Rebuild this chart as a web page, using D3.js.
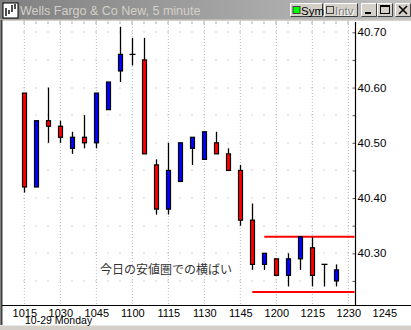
<!DOCTYPE html>
<html><head><meta charset="utf-8">
<script src="https://cdn.jsdelivr.net/npm/d3@7"></script>
<style>body{margin:0;background:#fff}svg{display:block}</style>
</head><body>
<script>
// ---- data ----
const times = ["10:15","10:20","10:25","10:30","10:35","10:40","10:45","10:50","10:55","11:00",
  "11:05","11:10","11:15","11:20","11:25","11:30","11:35","11:40","11:45","11:50","11:55",
  "12:00","12:05","12:10","12:15","12:20","12:25"];
const opens  = [40.59,40.42,40.54,40.53,40.49,40.51,40.50,40.56,40.63,40.66,40.65,40.46,40.38,40.43,40.49,40.47,40.50,40.48,40.45,40.36,40.28,40.29,40.26,40.29,40.31,40.28,40.25];
const highs  = [40.59,40.54,40.60,40.54,40.52,40.55,40.59,40.61,40.71,40.69,40.69,40.47,40.50,40.50,40.51,40.52,40.52,40.49,40.46,40.39,40.30,40.29,40.30,40.33,40.33,40.28,40.28];
const lows   = [40.41,40.42,40.50,40.50,40.48,40.49,40.49,40.56,40.61,40.64,40.48,40.37,40.37,40.43,40.46,40.47,40.48,40.45,40.35,40.27,40.27,40.26,40.24,40.27,40.24,40.24,40.24];
const closes = [40.42,40.54,40.53,40.51,40.51,40.50,40.59,40.61,40.66,40.66,40.48,40.38,40.45,40.50,40.51,40.52,40.48,40.45,40.36,40.28,40.30,40.26,40.29,40.33,40.26,40.28,40.27];
const xTickLabels = ["1015","1030","1045","1100","1115","1130","1145","1200","1215","1230","1245"];
const yTickLabels = ["40.30","40.40","40.50","40.60","40.70"];
const rangeLevels = [40.33, 40.23];
const rangeStarts = ["11:55","11:50"];
const title = "Wells Fargo & Co New, 5 minute";
const dateLabel = "10-29 Monday";
const note = "今日の安値圏での横ばい";

const toMin = s => { const [h,m] = s.split(":").map(Number); return h*60+m; };
const lblMin = s => toMin(s.slice(0, s.length-2) + ":" + s.slice(-2));

const W = 411, H = 330;
const svg = d3.select("body").append("svg").attr("width", W).attr("height", H);

const x = d3.scaleLinear().domain([toMin("10:15"), toMin("12:45")]).range([24.3, 384.3]);
const y = d3.scaleLinear().domain([40.30, 40.70]).range([253.3, 32.3]);
const axisX = 355.5, plotTop = 21, plotBottom = 305.5;
const font = "Liberation Sans, Arial, sans-serif";

svg.append("rect").attr("width", W).attr("height", H).attr("fill", "#fff");

// ---- title bar ----
const defs = svg.append("defs");
const grad = defs.append("linearGradient").attr("id","tb").attr("x1","0").attr("x2","1");
grad.append("stop").attr("offset","0").attr("stop-color","#808080");
grad.append("stop").attr("offset","1").attr("stop-color","#c0c0c0");
svg.append("rect").attr("x",0).attr("y",0).attr("width",W).attr("height",20).attr("fill","url(#tb)");
svg.append("rect").attr("x",0).attr("y",19.5).attr("width",W).attr("height",1.5).attr("fill","#d4d0c8");
// icon
svg.append("rect").attr("x",3).attr("y",3).attr("width",15).attr("height",15).attr("fill","#fff").attr("stroke","#000");
const ic = svg.append("g").attr("stroke","#000").attr("stroke-width",1.4);
[[6,8,16],[9,10,14],[12,5,12],[15,4,9]].forEach(([xx,a,b])=>ic.append("line").attr("x1",xx).attr("x2",xx).attr("y1",a).attr("y2",b));
svg.append("text").attr("x",20).attr("y",14.5).attr("fill","#d4d0c8")
  .attr("font-family",font).attr("font-size",12.5).text(title);

function button(bx, by, bw, bh){
  const g = svg.append("g");
  g.append("rect").attr("x",bx).attr("y",by).attr("width",bw).attr("height",bh).attr("fill","#d4d0c8");
  g.append("path").attr("d",`M${bx+0.5},${by+bh-0.5}V${by+0.5}H${bx+bw-0.5}`).attr("stroke","#fff").attr("fill","none");
  g.append("path").attr("d",`M${bx+0.5},${by+bh-0.5}H${bx+bw-0.5}V${by+0.5}`).attr("stroke","#404040").attr("fill","none");
  return g;
}
let b = button(290,3,33,14);
b.append("rect").attr("x",293).attr("y",6.5).attr("width",7).attr("height",7).attr("fill","#00ff00").attr("stroke","#404040");
b.append("text").attr("x",301).attr("y",14.5).attr("font-family",font).attr("font-size",11.5).attr("fill","#000").text("Sym");
b = button(324,3,34,14);
b.append("rect").attr("x",326.5).attr("y",6.5).attr("width",7).attr("height",7).attr("fill","#d4d0c8").attr("stroke","#404040");
b.append("text").attr("x",336).attr("y",15.5).attr("font-family",font).attr("font-size",11.5).attr("fill","#fff").text("Intv");
b.append("text").attr("x",335).attr("y",14.5).attr("font-family",font).attr("font-size",11.5).attr("fill","#808080").text("Intv");
b = button(361,3,16,14);
b.append("rect").attr("x",365).attr("y",12).attr("width",6).attr("height",2).attr("fill","#000");
b = button(377,3,16,14);
b.append("rect").attr("x",380.5).attr("y",5.5).attr("width",9).attr("height",8).attr("fill","none").attr("stroke","#000");
b.append("rect").attr("x",380.5).attr("y",5.5).attr("width",9).attr("height",1.5).attr("fill","#000");
b = button(395,3,16,14);
b.append("path").attr("d","M399,6L407,14M407,6L399,14").attr("stroke","#000").attr("stroke-width",1.6);

// ---- frame ----
svg.append("rect").attr("x",0).attr("y",20).attr("width",1).attr("height",305).attr("fill","#808080");
svg.append("rect").attr("x",1).attr("y",20).attr("width",1.5).attr("height",305).attr("fill","#404040");
svg.append("rect").attr("x",0).attr("y",325.5).attr("width",W).attr("height",4.5).attr("fill","#d4d0c8");

// ---- grid ----
const grid = svg.append("g");
const gridTimes = xTickLabels.map(lblMin).filter(m => x(m) < axisX);
gridTimes.forEach(m => grid.append("line").attr("x1",x(m)).attr("x2",x(m)).attr("y1",plotTop).attr("y2",plotBottom)
  .attr("stroke","#b8b8b8").attr("stroke-dasharray","1,2"));
const fiveMin = d3.range(toMin("10:15"), toMin("12:30")+1, 5);
const levels = d3.range(40.25, 40.7001, 0.05);
levels.forEach(l => fiveMin.forEach(m => grid.append("rect").attr("x",Math.round(x(m))-0.5).attr("y",Math.round(y(l))-0.5)
  .attr("width",1).attr("height",1).attr("fill","#a8a8a8")));
fiveMin.forEach(m => grid.append("line").attr("x1",Math.round(x(m))).attr("x2",Math.round(x(m))).attr("y1",21.5).attr("y2",24)
  .attr("stroke","#a8a8a8"));

// ---- axes ----
const yAxis = d3.axisRight(y).tickValues(levels).tickSize(0).tickFormat(v => {
  const s = v.toFixed(2); return yTickLabels.includes(s) ? s : ""; }).tickPadding(2);
const ya = svg.append("g").attr("transform",`translate(${axisX},0)`).call(yAxis);
ya.select(".domain").remove();
ya.selectAll("text").attr("font-family",font).attr("font-size",11.5).attr("fill","#000");
ya.selectAll(".tick").append("line").attr("x1",-3).attr("x2",0).attr("stroke","#555");
svg.append("line").attr("x1",axisX).attr("x2",axisX).attr("y1",22).attr("y2",plotBottom).attr("stroke","#000").attr("stroke-width",1.2);
svg.append("line").attr("x1",2).attr("x2",W).attr("y1",plotBottom).attr("y2",plotBottom).attr("stroke","#000").attr("stroke-width",1.2);

const xAxis = d3.axisBottom(x).tickValues(xTickLabels.map(lblMin)).tickSize(0).tickPadding(0)
  .tickFormat((d,i) => xTickLabels[i]);
const xa = svg.append("g").attr("transform",`translate(0,${plotBottom})`).call(xAxis);
xa.select(".domain").remove();
xa.selectAll("text").attr("font-family",font).attr("font-size",11).attr("fill","#000")
  .attr("dy",null).attr("y",11);
svg.append("text").attr("x",25).attr("y",323.5).attr("font-family",font).attr("font-size",10.5)
  .attr("fill","#000").text(dateLabel);

// ---- range lines ----
rangeLevels.forEach((l,i) => svg.append("line").attr("x1",x(toMin(rangeStarts[i]))).attr("x2",axisX-1)
  .attr("y1",y(l)).attr("y2",y(l)).attr("stroke","#ff0000").attr("stroke-width",2));

// ---- candles ----
const data = times.map((t,i) => ({m: toMin(t), o: opens[i], h: highs[i], l: lows[i], c: closes[i]}));
const cg = svg.append("g");
data.forEach(d => {
  const cx = Math.round(x(d.m)) + 0.5;
  cg.append("line").attr("x1",cx).attr("x2",cx).attr("y1",y(d.h)).attr("y2",y(d.l)).attr("stroke","#000").attr("stroke-width",1.3);
  if (Math.abs(d.o - d.c) < 0.001) {
    cg.append("line").attr("x1",cx-3).attr("x2",cx+3).attr("y1",y(d.o)).attr("y2",y(d.o)).attr("stroke","#000").attr("stroke-width",1.3);
  } else {
    const top = y(Math.max(d.o,d.c)), bot = y(Math.min(d.o,d.c));
    cg.append("rect").attr("x",cx-2).attr("y",top).attr("width",4).attr("height",bot-top)
      .attr("fill", d.c > d.o ? "#0000ff" : "#ff0000").attr("stroke","#000").attr("stroke-width",1.2);
  }
});

// ---- note ----
svg.append("text").attr("x",100).attr("y",273.5).attr("font-family","Noto Sans CJK JP, sans-serif").attr("font-size",12)
  .attr("fill","#333").text(note);
</script>
</body></html>
